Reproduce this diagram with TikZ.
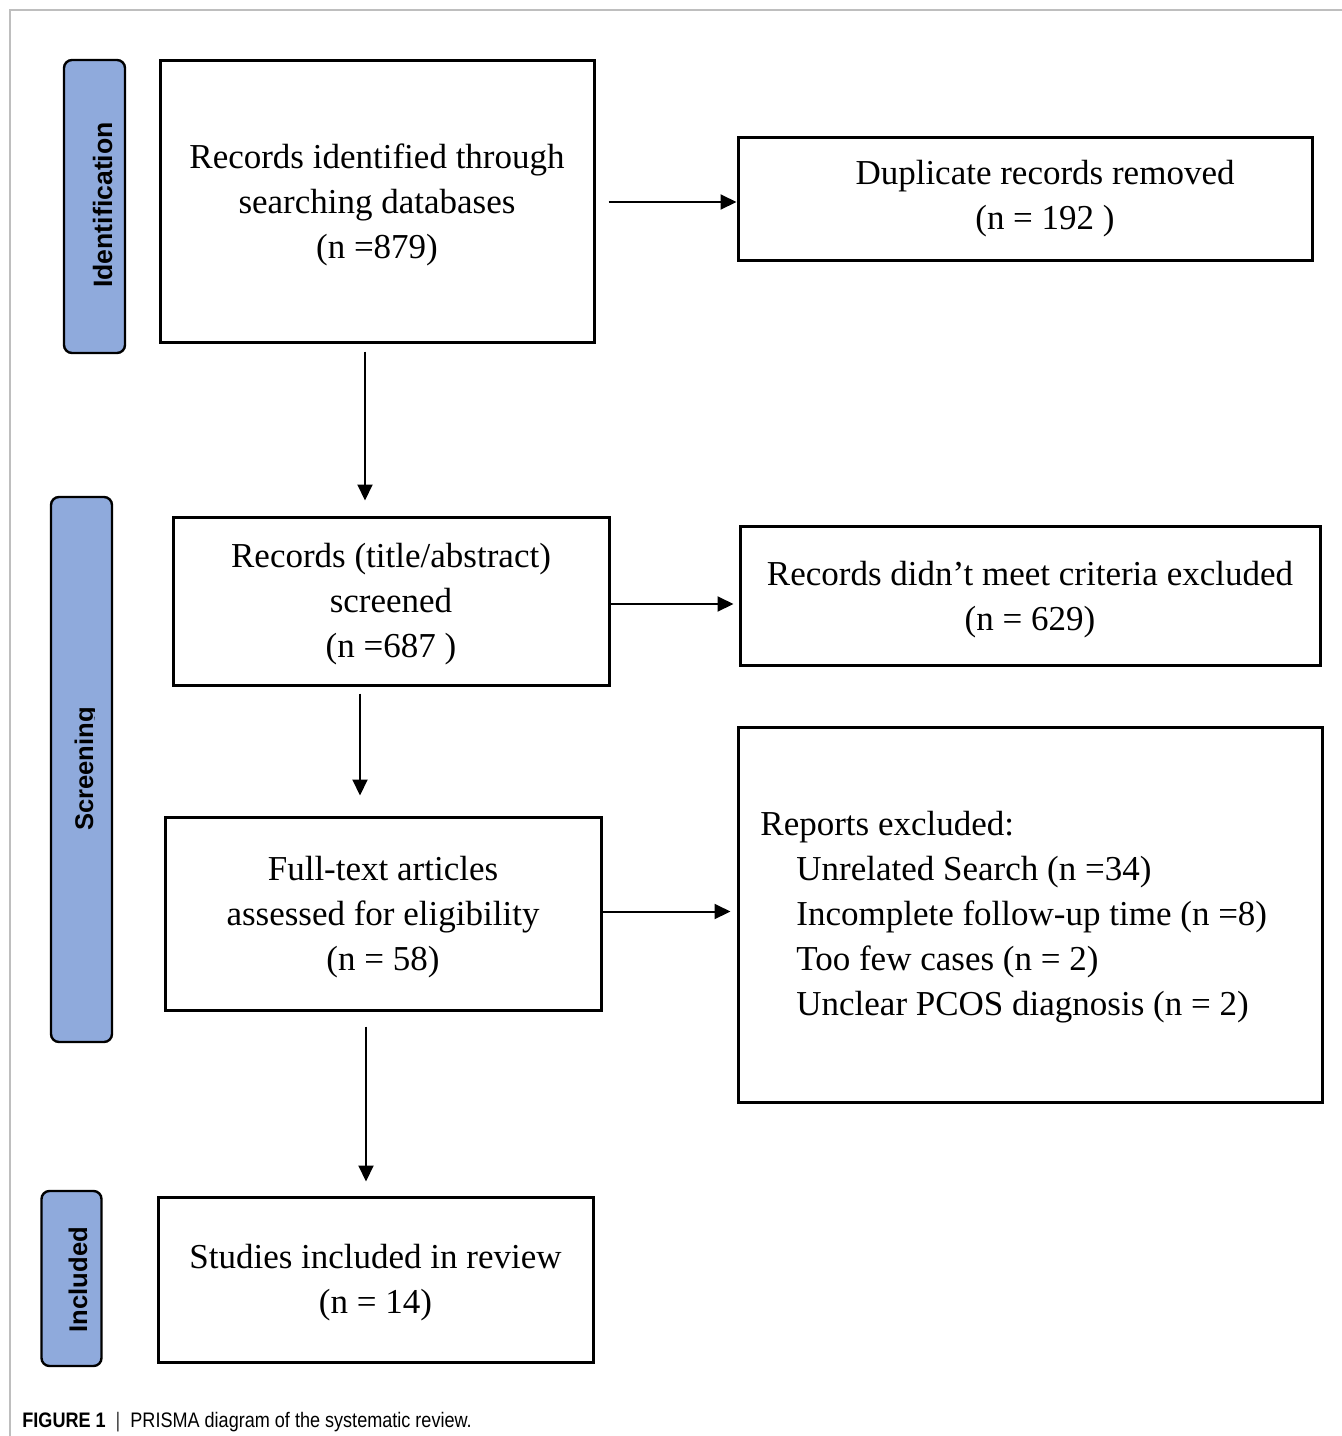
\documentclass[tikz,border=0pt]{standalone}
\usepackage{fontspec}
\setmainfont{Liberation Serif}
\newfontfamily\labfont{Liberation Sans}
\usetikzlibrary{arrows.meta,calc}
\definecolor{stageblue}{RGB}{143,170,220}
\definecolor{framegrey}{RGB}{190,190,190}
\definecolor{capgrey}{RGB}{60,60,60}
\begin{document}
\begin{tikzpicture}[x=0.5pt,y=-0.5pt,
  box/.style={draw=black, line width=1.5pt, inner sep=0pt, fill=white},
  txt/.style={font=\fontsize{17.5}{22.5}\selectfont, align=center, inner sep=0pt},
  stage/.style={draw=black, line width=1.2pt, rounded corners=4pt, fill=stageblue, inner sep=0pt},
  stagetxt/.style={font=\labfont\bfseries\fontsize{12.8}{14}\selectfont, rotate=90, inner sep=0pt, anchor=base},
  arr/.style={line width=1pt, -{Triangle[length=8pt,width=7.5pt]}},
]
\useasboundingbox (0,0) rectangle (1342,1436);
\fill[white] (0,0) rectangle (1342,1436);
\draw[framegrey, line width=0.7pt] (10,1436) -- (10,10) -- (1342,10);

% stage labels
\node[stage, minimum width=30.5pt, minimum height=146.5pt] (s1) at (94.5,206.5) {};
\node[stagetxt, font=\labfont\bfseries\fontsize{13.3}{15}\selectfont] (s1t) at (112,205) {Identification};
\node[stage, minimum width=30.5pt, minimum height=272.5pt] (s2) at (81.5,769.5) {};
\begin{scope}
\clip (60,600) rectangle (94,900);
\node[stagetxt] (s2t) at (93,769) {Screening};
\end{scope}
\node[stage, minimum width=30pt, minimum height=87.5pt] (s3) at (71.5,1278.5) {};
\node[stagetxt] (s3t) at (87,1279.5) {Included};

% boxes
\node[box, minimum width=217pt, minimum height=141pt] (b1) at (377,201) {};
\node[txt] (b1t) at (377,204.5) {Records identified through\\searching databases\\(n =879)};
\node[box, minimum width=287pt, minimum height=61.5pt] (b2) at (1025,198.5) {};
\node[txt] (b2t) at (1045,198.5) {Duplicate records removed\\(n = 192 )};
\node[box, minimum width=218pt, minimum height=84pt] (b3) at (391,601) {};
\node[txt] (b3t) at (391,604) {Records (title/abstract)\\screened\\(n =687 )};
\node[box, minimum width=290pt, minimum height=69.5pt] (b4) at (1030,595.5) {};
\node[txt] (b4t) at (1030,599.5) {Records didn’t meet criteria excluded\\(n = 629)};
\node[box, minimum width=218pt, minimum height=96.5pt] (b5) at (383,913.5) {};
\node[txt] (b5t) at (383,917) {Full-text articles\\assessed for eligibility\\(n = 58)};
\node[box, minimum width=292pt, minimum height=187.5pt] (b6) at (1030,914.5) {};
\node[txt, align=left, anchor=west] (b6t) at (760,917)
  {Reports excluded:\\
   \hspace*{18pt}Unrelated Search (n =34)\\
   \hspace*{18pt}Incomplete follow-up time (n =8)\\
   \hspace*{18pt}Too few cases (n = 2)\\
   \hspace*{18pt}Unclear PCOS diagnosis (n = 2)};
\node[box, minimum width=217.5pt, minimum height=82.5pt] (b7) at (375.5,1279.5) {};
\node[txt] (b7t) at (375.5,1283) {Studies included in review\\(n = 14)};

% arrows
\draw[arr] ($(b1.east)+(13,1)$) -- ($(b1.east -| b2.west)+(0,1)$);
\draw[arr] ($(b3.east)+(-2,3)$) -- ($(b3.east -| b4.west)+(-5,3)$);
\draw[arr] ($(b5.east)+(0,-2)$) -- ($(b5.east -| b6.west)+(-6,-2)$);
\draw[arr] ($(b1.south)+(-12,8)$) -- ($(b1.south |- b3.north)+(-12,-15)$);
\draw[arr] ($(b3.south)+(-31,7)$) -- ($(b3.south |- b5.north)+(-31,-20)$);
\draw[arr] ($(b5.south)+(-17,15)$) -- ($(b5.south |- b7.north)+(-17,-14)$);

% caption
\node[anchor=base west, inner sep=0pt, font=\labfont\fontsize{10.5}{12}\selectfont] (cap) at (22,1427)
  {\scalebox{0.86}[1]{\textbf{FIGURE 1}\ \ \textcolor{capgrey}{|}\ \ PRISMA diagram of the systematic review.}};
\end{tikzpicture}
\end{document}
